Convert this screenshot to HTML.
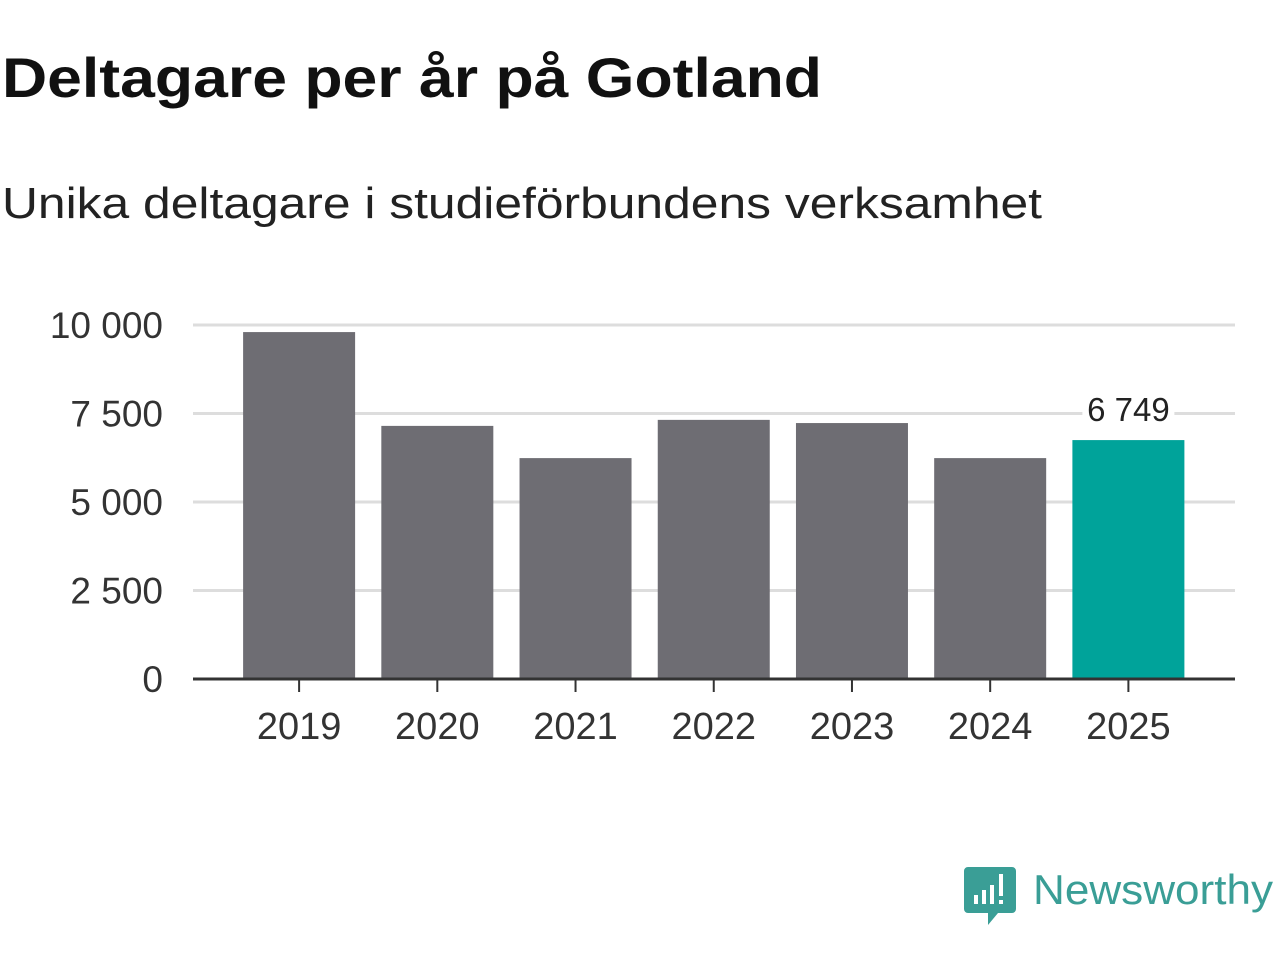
<!DOCTYPE html>
<html><head><meta charset="utf-8"><style>
body{margin:0;background:#fff;width:1280px;height:960px;overflow:hidden;font-family:"Liberation Sans",sans-serif}
</style></head><body>
<svg width="1280" height="960" xmlns="http://www.w3.org/2000/svg">
<text x="2" y="97" font-size="56" font-weight="bold" fill="#111" textLength="820" lengthAdjust="spacingAndGlyphs">Deltagare per år på Gotland</text>
<text x="2" y="218" font-size="44" fill="#222" textLength="1040" lengthAdjust="spacingAndGlyphs">Unika deltagare i studieförbundens verksamhet</text>
<g id="grid"></g><g id="bars"></g><g id="axes"></g>
<g>
<path d="M968 867 h44 a4 4 0 0 1 4 4 v38 a4 4 0 0 1 -4 4 h-14 l-10 12 v-12 h-20 a4 4 0 0 1 -4 -4 v-38 a4 4 0 0 1 4 -4z" fill="#3a9e96"/>
<rect x="974" y="895" width="4" height="9" fill="#fff"/><rect x="982" y="890" width="4" height="14" fill="#fff"/><rect x="990" y="885" width="4" height="19" fill="#fff"/><rect x="999" y="874" width="4" height="22" fill="#fff"/><rect x="999" y="900" width="4" height="4" fill="#fff"/>
<text x="1033" y="904" font-size="42" fill="#3a9e96" textLength="240" lengthAdjust="spacingAndGlyphs">Newsworthy</text>
</g>
</svg>
<script>
const categories=["2019","2020","2021","2022","2023","2024","2025"];
const values=[9800,7150,6240,7320,7230,6240,6749];
const ticks=[0,2500,5000,7500,10000];
const tickLabels=["0","2 500","5 000","7 500","10 000"];
const NS="http://www.w3.org/2000/svg";
const x0=193,x1=1235,y0=679,y1=325,maxV=10000;
const bs=230,be=1197.5;
const y=v=>y0-(v/maxV)*(y0-y1);
const step=(be-bs)/categories.length;
const cx=i=>bs+step*(i+0.5);
const bw=112;
function mk(t,a,p){const e=document.createElementNS(NS,t);for(const k in a)e.setAttribute(k,a[k]);p.appendChild(e);return e;}
const G=document.getElementById('grid'),B=document.getElementById('bars'),A=document.getElementById('axes');
ticks.forEach((t,i)=>{
 if(t>0){const l=mk('line',{x1:x0,x2:x1,y1:y(t),y2:y(t),stroke:'#ddd','stroke-width':3},G);
 
 }
 const tx=mk('text',{x:163,y:y(t)+13,'text-anchor':'end','font-size':37,fill:'#333'},A);
 tx.textContent=tickLabels[i];
 
 
});
categories.forEach((c,i)=>{
 const last=i===categories.length-1;
 const r=mk('rect',{x:cx(i)-bw/2,y:y(values[i]),width:bw,height:y0-y(values[i]),fill:last?'#00a39a':'#6e6d73'},B);
 
 
 mk('line',{x1:cx(i),x2:cx(i),y1:y0,y2:y0+13,stroke:'#333','stroke-width':2},A);
 const t=mk('text',{x:cx(i),y:739,'text-anchor':'middle','font-size':38,fill:'#333'},A);
 t.textContent=c;
 
 
 if(last){
  mk('rect',{x:cx(i)-46,y:y(values[i])-46,width:92,height:36,fill:'#fff'},A);
  const v=mk('text',{x:cx(i),y:y(values[i])-19,'text-anchor':'middle','font-size':33,fill:'#222'},A);
  v.textContent=values[i].toLocaleString('sv-SE').replace(/\s/g,' ');
  
  
 }
});
const ax=mk('line',{x1:x0,x2:x1,y1:y0,y2:y0,stroke:'#333','stroke-width':3},A);


</script>
</body></html>
